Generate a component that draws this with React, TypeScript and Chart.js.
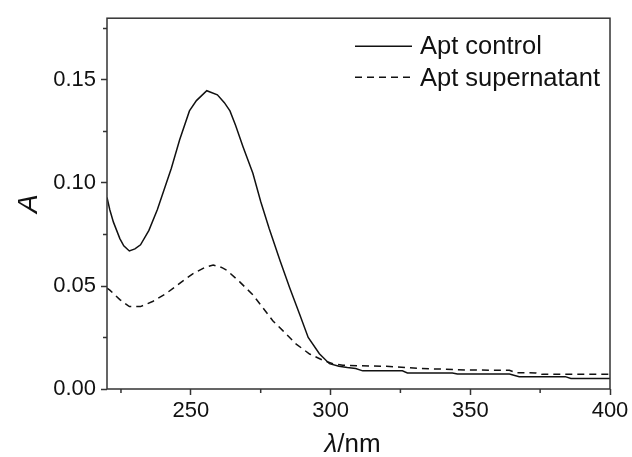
import React, { useEffect, useRef } from "react";
import { Chart, registerables } from "chart.js";

Chart.register(...registerables);

const controlWavelength = [
  220, 221, 222.3, 224.6, 226, 228, 230, 232, 235, 238, 241, 243, 246, 249.5, 252, 255.7,
  259.5, 262, 264, 266, 268.7, 272.2, 275, 278, 282, 285.4, 289, 292, 296, 299.6,
  303, 306, 309, 311.5, 325.7, 327.5, 343.6, 345.4, 364, 367.5, 384, 386, 400,
];
const controlAbsorbance = [
  0.093, 0.087, 0.081, 0.073, 0.0695, 0.067, 0.068, 0.07, 0.077, 0.087, 0.099, 0.107, 0.121,
  0.135, 0.14, 0.1448, 0.1428, 0.139, 0.135, 0.128, 0.1175, 0.1047, 0.091, 0.078,
  0.062, 0.049, 0.036, 0.025, 0.0171, 0.0123, 0.011, 0.0104, 0.0099, 0.0088, 0.0088,
  0.0078, 0.0078, 0.0073, 0.0073, 0.006, 0.006, 0.0051, 0.0051,
];
const supernatantWavelength = [
  220, 221, 224.6, 228, 232, 236.5, 241.3, 246, 250.8, 255, 258, 261, 263, 267.5,
  272.2, 275.8, 279.4, 283, 287.7, 292.5, 297.3, 300.8, 304.4, 320, 331.8, 349.6,
  364, 366.3, 373.4, 375.8, 400,
];
const supernatantAbsorbance = [
  0.049, 0.048, 0.0434, 0.04, 0.04, 0.0426, 0.0465, 0.0513, 0.056, 0.059, 0.0602,
  0.059, 0.0575, 0.052, 0.0457, 0.0394, 0.033, 0.0282, 0.0218, 0.017, 0.0139, 0.0123,
  0.0115, 0.011, 0.01, 0.0092, 0.0091, 0.0079, 0.0078, 0.0071, 0.0071,
];
const seriesLabels = ["Apt control", "Apt supernatant"];
const xMajorTicks = [250, 300, 350, 400];
const xMinorTicks = [225, 275, 325, 375];
const yMajorTicks = [0, 0.05, 0.1, 0.15];
const yMinorTicks = [0.025, 0.075, 0.125, 0.175];

const FONT = "'Liberation Sans', Arial, Helvetica, sans-serif";
const INK = "#111";
const AXIS = "#333";
const DASH = [7, 5];

const framePlugin = {
  id: "frameAndTicks",
  afterDraw(chart: any) {
    const { ctx, chartArea, scales } = chart;
    const { left, right, top, bottom } = chartArea;
    ctx.save();
    ctx.strokeStyle = AXIS;
    ctx.lineWidth = 1.5;
    ctx.strokeRect(left, top, right - left, bottom - top);
    ctx.beginPath();
    xMinorTicks.forEach((v) => {
      const px = scales.x.getPixelForValue(v);
      ctx.moveTo(px, bottom);
      ctx.lineTo(px, bottom + 4);
    });
    yMinorTicks.forEach((v) => {
      const py = scales.y.getPixelForValue(v);
      ctx.moveTo(left, py);
      ctx.lineTo(left - 4, py);
    });
    ctx.stroke();

    // legend
    const lx0 = right - 255;
    const lx1 = right - 198;
    const tx = right - 190;
    ctx.font = `25.5px ${FONT}`;
    ctx.fillStyle = INK;
    ctx.textAlign = "left";
    ctx.textBaseline = "alphabetic";
    ctx.strokeStyle = INK;
    ctx.lineWidth = 1.5;
    ctx.beginPath();
    ctx.moveTo(lx0, top + 28);
    ctx.lineTo(lx1, top + 28);
    ctx.stroke();
    ctx.fillText(seriesLabels[0], tx, top + 36);
    ctx.setLineDash(DASH);
    ctx.beginPath();
    ctx.moveTo(lx0, top + 59);
    ctx.lineTo(lx1, top + 59);
    ctx.stroke();
    ctx.setLineDash([]);
    ctx.fillText(seriesLabels[1], tx, top + 68);

    // axis titles
    ctx.save();
    ctx.translate(left - 70, (top + bottom) / 2);
    ctx.rotate(-Math.PI / 2);
    ctx.font = `italic 28px ${FONT}`;
    ctx.textAlign = "center";
    ctx.textBaseline = "alphabetic";
    ctx.fillText("A", 0, 0);
    ctx.restore();

    const italic = `italic 26px ${FONT}`;
    const upright = `26px ${FONT}`;
    ctx.font = italic;
    const w1 = ctx.measureText("λ").width;
    ctx.font = upright;
    const w2 = ctx.measureText("/nm").width;
    const cx = (left + right) / 2 - 6;
    const sx = cx - (w1 + w2) / 2;
    const by = bottom + 63;
    ctx.font = italic;
    ctx.textAlign = "left";
    ctx.fillText("λ", sx, by);
    ctx.font = upright;
    ctx.fillText("/nm", sx + w1, by);
    ctx.restore();
  },
};

export default function App() {
  const canvasRef = useRef<HTMLCanvasElement | null>(null);

  useEffect(() => {
    const canvas = canvasRef.current;
    if (!canvas) return;
    const chart = new Chart(canvas, {
      type: "line",
      data: {
        datasets: [
          {
            label: seriesLabels[0],
            data: controlWavelength.map((x, i) => ({ x, y: controlAbsorbance[i] })),
            borderColor: INK,
            borderWidth: 1.5,
            pointRadius: 0,
            tension: 0,
            fill: false,
          },
          {
            label: seriesLabels[1],
            data: supernatantWavelength.map((x, i) => ({ x, y: supernatantAbsorbance[i] })),
            borderColor: INK,
            borderWidth: 1.5,
            borderDash: DASH,
            pointRadius: 0,
            tension: 0,
            fill: false,
          },
        ],
      },
      options: {
        animation: false,
        responsive: false,
        devicePixelRatio: 1,
        layout: { padding: { top: 14, right: 22, left: 0, bottom: 0 } },
        plugins: { legend: { display: false }, tooltip: { enabled: false }, title: { display: false } },
        scales: {
          x: {
            type: "linear",
            min: 220,
            max: 400,
            afterBuildTicks: (s: any) => {
              s.ticks = xMajorTicks.map((value) => ({ value }));
            },
            afterFit: (s: any) => {
              s.height = 68;
            },
            ticks: {
              font: { size: 22, family: FONT },
              color: INK,
              padding: 3,
              maxRotation: 0,
              autoSkip: false,
              callback: (v: any) => String(v),
            },
            grid: {
              drawOnChartArea: false,
              drawTicks: true,
              tickLength: 6,
              tickColor: AXIS,
              tickWidth: 1.5,
            },
            border: { display: false },
          },
          y: {
            type: "linear",
            min: 0,
            max: 0.18,
            afterBuildTicks: (s: any) => {
              s.ticks = yMajorTicks.map((value) => ({ value }));
            },
            afterFit: (s: any) => {
              s.width = 107;
            },
            ticks: {
              font: { size: 22, family: FONT },
              color: INK,
              padding: 5,
              autoSkip: false,
              callback: (v: any) => Number(v).toFixed(2),
            },
            grid: {
              drawOnChartArea: false,
              drawTicks: true,
              tickLength: 6,
              tickColor: AXIS,
              tickWidth: 1.5,
            },
            border: { display: false },
          },
        },
      },
      plugins: [framePlugin],
    });
    return () => chart.destroy();
  }, []);

  return (
    <canvas
      ref={canvasRef}
      width={632}
      height={457}
      style={{ position: "fixed", left: 0, top: 0, width: 632, height: 457, display: "block", background: "#fff" }}
    />
  );
}
